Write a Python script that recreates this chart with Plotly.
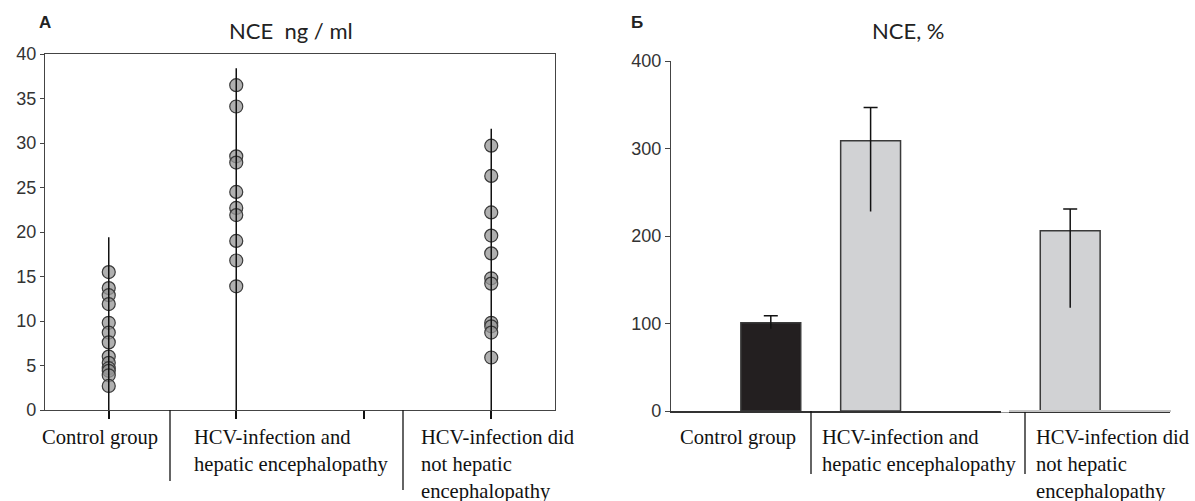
import plotly.graph_objects as go

W, H = 1195, 501

# ---------------- data ----------------
groups = ["Control group", "HCV-infection and hepatic encephalopathy", "",
          "HCV-infection did not hepatic encephalopathy"]

# Panel A: individual NCE values, ng/ml
control_vals = [15.5, 13.7, 12.9, 11.9, 9.8, 8.7, 7.6, 6.0, 5.3, 4.7, 4.4, 3.9, 2.7]
hcv_he_vals = [36.5, 34.1, 28.5, 27.8, 24.5, 22.7, 21.9, 19.0, 16.8, 13.9]
hcv_nohe_vals = [29.7, 26.3, 22.2, 19.6, 17.6, 14.8, 14.2, 9.8, 9.4, 8.7, 5.9]
range_max = [19.4, 38.4, 31.6]

# Panel B: NCE, %
pct_mean = [101, 309, 206]
pct_upper = [109, 347, 231]
pct_lower = [94, 228, 118]
bar_colors = ["#231f20", "#d1d2d4", "#d1d2d4"]

label_a = ["Control group", "HCV-infection and<br>hepatic encephalopathy",
           "HCV-infection did<br>not hepatic<br>encephalopathy"]

# ---------------- helpers ----------------
def px(x):
    return x / W

def py(y):
    return 1 - y / H

present = [g for g in groups if g]
pos = [groups.index(g) for g in present]

fig = go.Figure()

# ---- Panel A ----
for g, vals in zip(present, [control_vals, hcv_he_vals, hcv_nohe_vals]):
    fig.add_trace(go.Scatter(
        x=[groups.index(g)] * len(vals), y=vals, mode="markers",
        marker=dict(size=13, color="rgba(150,150,150,0.75)",
                    line=dict(color="#3a3a3a", width=1.2)),
        xaxis="x", yaxis="y", showlegend=False, cliponaxis=False))

lx, ly = [], []
for p, top in zip(pos, range_max):
    lx += [p, p, None]
    ly += [0, top, None]
fig.add_trace(go.Scatter(x=lx, y=ly, mode="lines", line=dict(color="#111", width=1.5),
                         xaxis="x", yaxis="y", showlegend=False))

# ---- Panel B ----
fig.add_trace(go.Bar(
    x=pos, y=pct_mean, width=0.6,
    marker=dict(color=bar_colors, line=dict(color="#3a3a3a", width=1.5)),
    xaxis="x2", yaxis="y2", showlegend=False))
# error stems (lower to upper)
ex, ey = [], []
for p, lo, up in zip(pos, pct_lower, pct_upper):
    ex += [p, p, None]
    ey += [lo, up, None]
fig.add_trace(go.Scatter(x=ex, y=ey, mode="lines", line=dict(color="#111", width=1.5),
                         xaxis="x2", yaxis="y2", showlegend=False))
# caps on the upper ends only
fig.add_trace(go.Scatter(
    x=pos, y=pct_upper, mode="markers", marker=dict(size=1, opacity=0),
    error_y=dict(type="data", array=[0] * len(pos), color="#111", thickness=1.5, width=7),
    xaxis="x2", yaxis="y2", showlegend=False))

tickfont = dict(family="Liberation Sans, Arial", size=18, color="#333")

fig.update_layout(
    width=W, height=H, margin=dict(l=0, r=0, t=0, b=0, autoexpand=False),
    paper_bgcolor="white", plot_bgcolor="white",
    xaxis=dict(domain=[px(45), px(555)], range=[-0.5, 3.5], tickvals=[0, 1, 2, 3],
               showticklabels=False, ticks="outside", ticklen=8, tickwidth=1.5, tickcolor="#111",
               showline=True, mirror=True, linecolor="#444", linewidth=1.3,
               showgrid=False, zeroline=False, automargin=False),
    yaxis=dict(domain=[py(410), py(54)], range=[0, 40], dtick=5, tickfont=tickfont,
               ticks="outside", ticklen=4, tickcolor="#444",
               showline=True, mirror=True, linecolor="#444", linewidth=1.3,
               showgrid=False, zeroline=False, automargin=False),
    xaxis2=dict(domain=[px(671), px(1170)], range=[-1, 4], showticklabels=False,
                showline=True, linecolor="#333", linewidth=1.5, ticks="",
                showgrid=False, zeroline=False, anchor="y2", automargin=False),
    yaxis2=dict(domain=[py(411), py(61)], range=[0, 400], dtick=100, tickfont=tickfont,
                ticks="outside", ticklen=5, tickcolor="#444",
                showline=True, linecolor="#444", linewidth=1.3,
                showgrid=False, zeroline=False, anchor="x2", automargin=False),
)

shapes = []
# separators under panel A
shapes.append(dict(type="line", xref="paper", yref="paper", x0=px(170), x1=px(170),
                   y0=py(410), y1=py(481), line=dict(color="#111", width=1.3)))
shapes.append(dict(type="line", xref="paper", yref="paper", x0=px(403), x1=px(403),
                   y0=py(410), y1=py(490), line=dict(color="#111", width=1.3)))
# separators under panel B
shapes.append(dict(type="line", xref="paper", yref="paper", x0=px(811), x1=px(811),
                   y0=py(411), y1=py(474), line=dict(color="#111", width=1.3)))
shapes.append(dict(type="line", xref="paper", yref="paper", x0=px(1025), x1=px(1025),
                   y0=py(411), y1=py(474), line=dict(color="#111", width=1.3)))
# light grey part of baseline in panel B
shapes.append(dict(type="line", xref="paper", yref="paper", x0=px(1001), x1=px(1009),
                   y0=py(411), y1=py(411), line=dict(color="white", width=3)))
shapes.append(dict(type="line", xref="paper", yref="paper", x0=px(1009), x1=px(1171),
                   y0=py(411), y1=py(411), line=dict(color="#c4c4c4", width=2)))
fig.update_layout(shapes=shapes)

serif = dict(family="Liberation Serif, Times New Roman", size=20.6, color="#111")
ann = []
for lbl, xl in zip(label_a, [40, 192, 419]):
    ann.append(dict(text=lbl, x=px(xl), y=py(424), xref="paper", yref="paper",
                    xanchor="left", yanchor="top", align="left", showarrow=False, font=serif))
for lbl, xl in zip(label_a, [678, 820, 1034]):
    ann.append(dict(text=lbl, x=px(xl), y=py(424), xref="paper", yref="paper",
                    xanchor="left", yanchor="top", align="left", showarrow=False, font=serif))
titlefont = dict(family="Lato, Open Sans", size=22, color="#222")
ann.append(dict(text="NCE  ng / ml", x=px(291), y=py(31), xref="paper", yref="paper",
                xanchor="center", yanchor="middle", showarrow=False, font=titlefont))
ann.append(dict(text="NCE, %", x=px(908), y=py(31), xref="paper", yref="paper",
                xanchor="center", yanchor="middle", showarrow=False, font=titlefont))
letterfont = dict(family="Liberation Sans, Arial", size=17, color="#222")
ann.append(dict(text="<b>А</b>", x=px(45), y=py(23), xref="paper", yref="paper",
                xanchor="center", yanchor="middle", showarrow=False, font=letterfont))
ann.append(dict(text="<b>Б</b>", x=px(637), y=py(23), xref="paper", yref="paper",
                xanchor="center", yanchor="middle", showarrow=False, font=letterfont))
fig.update_layout(annotations=ann)

fig.write_html("out.html", config={"displayModeBar": False},
               post_script="document.body.style.margin='0px';document.body.style.overflow='hidden';")
